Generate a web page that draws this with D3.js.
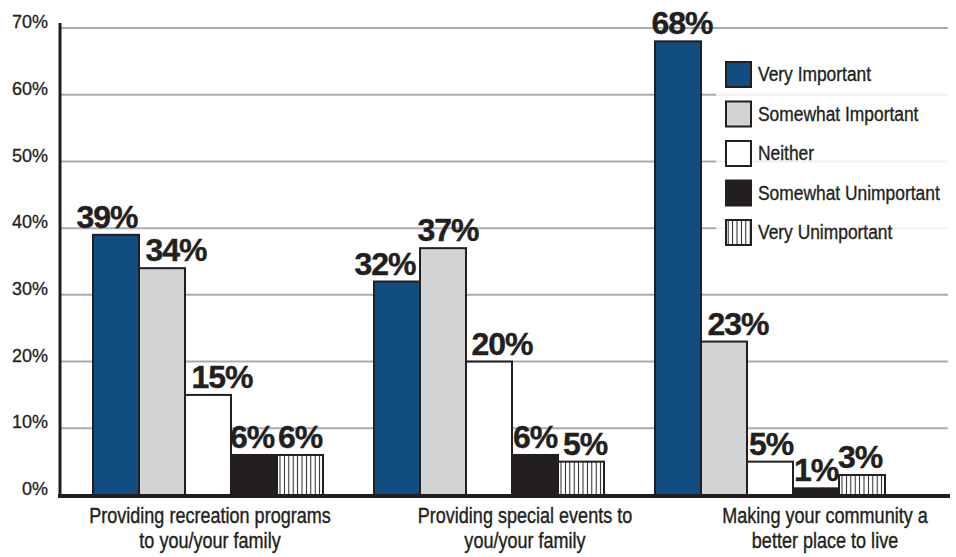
<!DOCTYPE html>
<html>
<head>
<meta charset="utf-8">
<script src="https://cdn.jsdelivr.net/npm/d3@7"></script>
<style>
  html, body { margin: 0; padding: 0; background: #fff; }
  svg { display: block; }
</style>
</head>
<body>
<svg id="chart" width="956" height="557"></svg>
<script>
// Survey categories (each label split over two lines)
const categories = [
  ["Providing recreation programs", "to you/your family"],
  ["Providing special events to", "you/your family"],
  ["Making your community a", "better place to live"]
];
const seriesNames = ["Very Important", "Somewhat Important", "Neither", "Somewhat Unimportant", "Very Unimportant"];

// Percent of respondents, per category
const veryImportant       = [39, 32, 68];
const somewhatImportant   = [34, 37, 23];
const neither             = [15, 20, 5];
const somewhatUnimportant = [6, 6, 1];
const veryUnimportant     = [6, 5, 3];

const yTicks = [0, 10, 20, 30, 40, 50, 60, 70];

const seriesValues = [veryImportant, somewhatImportant, neither, somewhatUnimportant, veryUnimportant];
const fills = ["#114d80", "#d1d3d4", "#ffffff", "#231f20", "url(#stripes)"];
const ink = "#231f20";
const sans = "'Liberation Sans', Arial, sans-serif";

const svg = d3.select("#chart");

// Vertical stripe pattern for the last series
const defs = svg.append("defs");
const pat = defs.append("pattern")
  .attr("id", "stripes")
  .attr("patternUnits", "userSpaceOnUse")
  .attr("width", 4.4).attr("height", 10);
pat.append("rect").attr("width", 4.4).attr("height", 10).attr("fill", "#fff");
pat.append("line").attr("x1", 2.2).attr("x2", 2.2).attr("y1", 0).attr("y2", 10)
  .attr("stroke", ink).attr("stroke-width", 1);

const y = d3.scaleLinear().domain([0, 70]).range([495, 28]);

const x0 = d3.scaleBand()
  .domain(d3.range(categories.length))
  .range([62, 916])
  .paddingInner(51 / 281)
  .paddingOuter(31 / 281);

const x1 = d3.scaleBand()
  .domain(d3.range(seriesNames.length))
  .range([0, x0.bandwidth()]);

// Gridlines
svg.append("g")
  .selectAll("line")
  .data(yTicks)
  .join("line")
  .attr("x1", 61).attr("x2", 948)
  .attr("y1", d => y(d)).attr("y2", d => y(d))
  .attr("stroke", "#ababab").attr("stroke-width", 2);

// Y tick labels
const yAxis = d3.axisLeft(y).tickValues(yTicks).tickFormat(d => d + "%").tickSize(0).tickPadding(0);
const yg = svg.append("g").attr("transform", "translate(48,0)").call(yAxis);
yg.select(".domain").remove();
yg.selectAll("text")
  .attr("dy", "-0.02em")
  .attr("font-family", sans)
  .attr("font-size", 18)
  .attr("stroke", "#222").attr("stroke-width", 0.3)
  .attr("fill", "#222");

// Legend backdrop (semi-opaque so gridlines show faintly)
svg.append("rect")
  .attr("x", 716).attr("y", 52).attr("width", 232).attr("height", 198)
  .attr("fill", "#fff").attr("fill-opacity", 0.82);

// Bars
const groups = svg.append("g")
  .selectAll("g")
  .data(categories.map((c, i) => i))
  .join("g")
  .attr("transform", i => `translate(${x0(i)},0)`);

groups.selectAll("rect")
  .data(i => seriesValues.map((vals, s) => ({ s, v: vals[i] })))
  .join("rect")
  .attr("x", d => x1(d.s))
  .attr("width", x1.bandwidth())
  .attr("y", d => y(d.v))
  .attr("height", d => y(0) - y(d.v))
  .attr("fill", d => fills[d.s])
  .attr("stroke", ink)
  .attr("stroke-width", 2);

// Value labels, nudged sideways so neighbours don't collide
const labelNudge = [
  [-9, 14, 14, -2, 0],
  [-12, 5, 13, 0, 4],
  [4, 14, 1, 0, -2]
];
groups.selectAll("text.val")
  .data(i => seriesValues.map((vals, s) => ({ s, i, v: vals[i] })))
  .join("text")
  .attr("class", "val")
  .attr("x", d => x1(d.s) + x1.bandwidth() / 2 + labelNudge[d.i][d.s])
  .attr("y", d => y(d.v) - 7)
  .attr("text-anchor", "middle")
  .attr("font-family", sans)
  .attr("font-weight", "bold")
  .attr("font-size", 32)
  .attr("letter-spacing", -1)
  .attr("stroke", ink).attr("stroke-width", 0.4)
  .attr("fill", ink)
  .text(d => d.v + "%");

// Axis lines
svg.append("line").attr("x1", 60).attr("x2", 60).attr("y1", 23).attr("y2", 497)
  .attr("stroke", ink).attr("stroke-width", 3);
svg.append("line").attr("x1", 58).attr("x2", 950).attr("y1", 496).attr("y2", 496)
  .attr("stroke", ink).attr("stroke-width", 4);

// Category labels (horizontally condensed sans)
const labelShift = [2, 36, 55];
svg.append("g")
  .selectAll("g")
  .data(categories)
  .join("g")
  .attr("transform", (d, i) => `translate(${x0(i) + x0.bandwidth() / 2 + labelShift[i]},0) scale(0.82,1)`)
  .append("text")
  .attr("text-anchor", "middle")
  .attr("font-family", sans)
  .attr("font-size", 22)
  .attr("stroke", ink).attr("stroke-width", 0.4)
  .attr("fill", ink)
  .selectAll("tspan")
  .data(d => d)
  .join("tspan")
  .attr("x", 0)
  .attr("y", (d, k) => 523 + k * 25)
  .text(d => d);

// Legend
const legend = svg.append("g").attr("transform", "translate(726,62)");
const items = legend.selectAll("g")
  .data(seriesNames)
  .join("g")
  .attr("transform", (d, i) => `translate(0,${i * 39.5})`);
items.append("rect")
  .attr("width", 25).attr("height", 25)
  .attr("fill", (d, i) => fills[i])
  .attr("stroke", ink).attr("stroke-width", 2);
items.append("g")
  .attr("transform", "translate(32,19) scale(0.87,1)")
  .append("text")
  .attr("font-family", sans)
  .attr("font-size", 20)
  .attr("stroke", ink).attr("stroke-width", 0.35)
  .attr("fill", ink)
  .text(d => d);
</script>
</body>
</html>
